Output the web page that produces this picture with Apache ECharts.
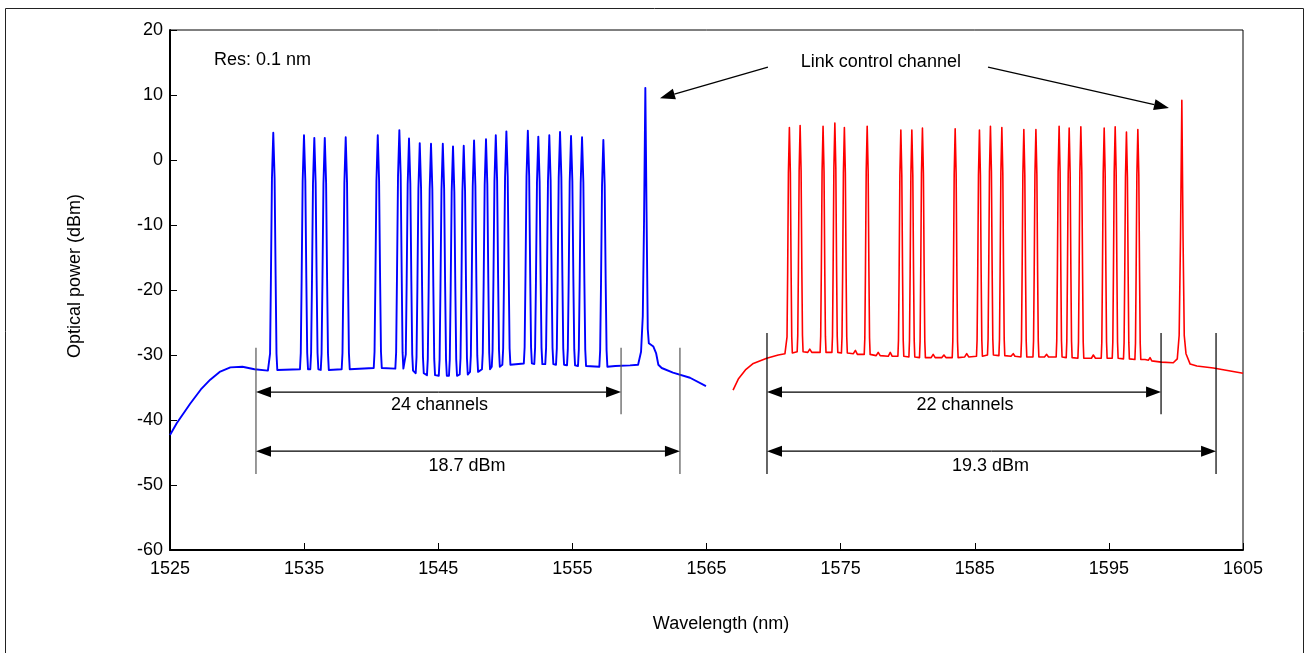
<!DOCTYPE html>
<html>
<head>
<meta charset="utf-8">
<title>Optical spectrum</title>
<script src="https://cdn.jsdelivr.net/npm/echarts@6.0.0/dist/echarts.min.js"></script>
<style>
  html, body { margin: 0; padding: 0; background: #fff; }
  #chart { width: 1307px; height: 653px; }
</style>
</head>
<body>
<div id="chart"></div>
<script>
// Axis ranges and tick steps
const xRangeNm = [1525, 1605];
const xStepNm = 10;
const yRangeDbm = [-60, 20];
const yStepDbm = 10;

// C-band spectrum: 24 channel peaks, the local noise floor at each channel
const cBandChannelNm = [1532.70, 1534.99, 1535.76, 1536.54, 1538.10, 1540.49, 1542.10, 1542.82,
  1543.62, 1544.46, 1545.34, 1546.10, 1546.90, 1547.67, 1548.56, 1549.29, 1550.08, 1551.68,
  1552.46, 1553.28, 1554.08, 1554.90, 1555.72, 1557.31];
const cBandChannelDbm = [4.2, 3.8, 3.4, 3.4, 3.5, 3.8, 4.6, 3.3, 2.6, 2.5, 2.5, 2.1,
  2.2, 3.0, 3.2, 3.8, 4.4, 4.5, 3.6, 3.8, 4.3, 3.7, 3.5, 3.1];
const cBandFloorDbm = [-32.3, -32.2, -32.2, -32.3, -32.2, -32.0, -32.1, -32.4, -32.8, -33.1, -33.2, -33.2,
  -33.0, -32.6, -32.2, -31.8, -31.5, -31.3, -31.4, -31.4, -31.5, -31.6, -31.7, -31.8];
// C-band ASE shoulder, link control channel and tail
const cBandTrace = [[1525, -42.3], [1525.5, -40.5], [1526.5, -37.5], [1527.3, -35.3], [1528, -33.8],
  [1528.7, -32.6], [1529.5, -31.9], [1530.4, -31.8], [1531.3, -32.2], [1532.3, -32.4],
  [1558.2, -31.7], [1559.3, -31.6], [1559.9, -31.5], [1560.12, -29.5], [1560.25, -24.0],
  [1560.34, -10.0], [1560.44, 11.1], [1560.53, -8.0], [1560.62, -26.0], [1560.7, -28.2],
  [1561.04, -28.7], [1561.24, -29.7], [1561.41, -31.5], [1561.66, -32.0], [1562.5, -32.7],
  [1563.77, -33.5], [1564.96, -34.8]];

// L-band spectrum: 22 channel peaks, the local noise floor at each channel
const lBandChannelNm = [1571.18, 1571.98, 1573.69, 1574.57, 1575.28, 1576.98, 1579.49, 1580.31,
  1581.10, 1583.54, 1585.35, 1586.17, 1587.02, 1588.66, 1589.56, 1591.29, 1592.04, 1592.91,
  1594.65, 1595.47, 1596.31, 1597.16];
const lBandChannelDbm = [5.0, 5.3, 5.2, 5.7, 5.0, 5.2, 4.6, 4.6, 4.9, 4.8, 4.6, 5.2,
  5.0, 4.7, 4.7, 5.2, 4.9, 5.1, 4.9, 5.1, 4.3, 4.7];
const lBandFloorDbm = [-29.7, -29.5, -29.6, -29.6, -29.7, -29.9, -30.2, -30.3, -30.4, -30.4, -30.2,
  -30.0, -30.1, -30.3, -30.3, -30.3, -30.4, -30.5, -30.5, -30.5, -30.6, -30.7];
// L-band rising edge, ripple between channels, link control channel and tail
const lBandTrace = [[1566.98, -35.4], [1567.37, -33.7], [1567.9, -32.3], [1568.49, -31.3],
  [1569.49, -30.5], [1570.35, -30.0], [1570.85, -29.8],
  [1572.55, -29.6], [1572.7, -29.1], [1572.85, -29.6],
  [1575.95, -29.8], [1576.1, -29.3], [1576.25, -29.9],
  [1577.65, -30.1], [1577.8, -29.6], [1577.95, -30.1],
  [1578.55, -30.2], [1578.7, -29.6], [1578.85, -30.2],
  [1581.75, -30.4], [1581.9, -29.9], [1582.05, -30.4],
  [1582.55, -30.4], [1582.7, -30.0], [1582.85, -30.4],
  [1584.25, -30.3], [1584.4, -29.8], [1584.55, -30.3],
  [1587.7, -30.2], [1587.87, -29.8], [1588.0, -30.2],
  [1590.2, -30.3], [1590.36, -29.9], [1590.5, -30.3],
  [1593.7, -30.5], [1593.84, -30.0], [1594.0, -30.5],
  [1597.7, -30.7], [1597.95, -30.8], [1598.07, -30.4], [1598.2, -30.9],
  [1598.9, -31.1], [1599.8, -31.2], [1600.1, -30.6], [1600.24, -27.0], [1600.34, -12.0],
  [1600.44, 9.2], [1600.53, -12.0], [1600.62, -27.0], [1600.75, -29.8], [1601.06, -31.4],
  [1601.56, -31.7], [1602.79, -32.0], [1605, -32.8]];

// Span markers (nm): start, last channel, end of power span; and their labels
const cBandSpanNm = [1531.41, 1558.63, 1563.02];
const lBandSpanNm = [1569.51, 1598.89, 1602.99];
const spanLabels = ['24 channels', '18.7 dBm', '22 channels', '19.3 dBm'];
const lccLabel = 'Link control channel';
const resLabel = 'Res: 0.1 nm';

const FONT = '"Liberation Sans", Arial, sans-serif';

// Merge channel outlines (a narrow spectral line at 0.1 nm resolution) into a trace
function buildTrace(extra, centers, peaks, floors, halfBase) {
  const pts = extra.slice();
  centers.forEach((c, i) => {
    const p = peaks[i], f = floors[i], h = halfBase;
    pts.push([c - h, f], [c - 0.8 * h, f + 2.5], [c - 0.58 * h, p - 22], [c - 0.33 * h, p - 7], [c, p],
      [c + 0.33 * h, p - 7], [c + 0.58 * h, p - 22], [c + 0.8 * h, f + 2.5], [c + h, f]);
  });
  return pts.sort((a, b) => a[0] - b[0]);
}

const chart = echarts.init(document.getElementById('chart'), null, { renderer: 'canvas' });

const labelStyle = { color: '#000', fontSize: 18, fontFamily: FONT };

chart.setOption({
  animation: false,
  backgroundColor: '#fff',
  grid: { left: 170, right: 64, top: 30, bottom: 103, show: true, borderColor: '#000', borderWidth: 1, backgroundColor: 'transparent' },
  xAxis: {
    type: 'value', min: xRangeNm[0], max: xRangeNm[1], interval: xStepNm,
    axisLine: { show: true, onZero: false, lineStyle: { color: '#000', width: 2 } },
    axisTick: { show: true, inside: true, length: 7, lineStyle: { color: '#000', width: 1 } },
    splitLine: { show: false },
    axisLabel: Object.assign({ margin: 10, showMinLabel: true, showMaxLabel: true, formatter: v => String(v) }, labelStyle)
  },
  yAxis: {
    type: 'value', min: yRangeDbm[0], max: yRangeDbm[1], interval: yStepDbm,
    axisLine: { show: true, onZero: false, lineStyle: { color: '#000', width: 2 } },
    axisTick: { show: true, inside: true, length: 7, lineStyle: { color: '#000', width: 1 } },
    splitLine: { show: false },
    axisLabel: Object.assign({ margin: 7, formatter: v => String(v) }, labelStyle)
  },
  series: [
    {
      name: 'C-band', type: 'line', showSymbol: false, symbol: 'none', smooth: false,
      data: buildTrace(cBandTrace, cBandChannelNm, cBandChannelDbm, cBandFloorDbm, 0.30),
      lineStyle: { color: '#0000ff', width: 1.9, join: 'round' }, z: 3
    },
    {
      name: 'L-band', type: 'line', showSymbol: false, symbol: 'none', smooth: false,
      data: buildTrace(lBandTrace, lBandChannelNm, lBandChannelDbm, lBandFloorDbm, 0.22),
      lineStyle: { color: '#ff0000', width: 1.6, join: 'round' }, z: 3
    }
  ]
});

// Annotations placed in data coordinates
function px(x, y) { return chart.convertToPixel({ gridIndex: 0 }, [x, y]); }

function arrowHead(tail, tip, len, half) {
  const dx = tip[0] - tail[0], dy = tip[1] - tail[1];
  const d = Math.hypot(dx, dy), ux = dx / d, uy = dy / d;
  const bx = tip[0] - ux * len, by = tip[1] - uy * len;
  return {
    base: [bx, by],
    poly: [[tip[0], tip[1]], [bx - uy * half, by + ux * half], [bx + uy * half, by - ux * half]]
  };
}

const g = [];
function line(a, b, color, w) {
  g.push({ type: 'line', shape: { x1: a[0], y1: a[1], x2: b[0], y2: b[1] }, style: { stroke: color, lineWidth: w }, z: 10 });
}
function arrow(tail, tip) {
  const h = arrowHead(tail, tip, 15, 5.5);
  line(tail, h.base, '#000', 1.2);
  g.push({ type: 'polygon', shape: { points: h.poly }, style: { fill: '#000' }, z: 10 });
}
function doubleArrow(a, b) {
  const mid = [(a[0] + b[0]) / 2, (a[1] + b[1]) / 2];
  arrow(mid, a);
  arrow(mid, b);
}
function text(str, p, align) {
  g.push({ type: 'text', x: p[0], y: p[1], style: { text: str, fill: '#000', font: '18px ' + FONT, align: align || 'center', verticalAlign: 'middle' }, z: 10 });
}

// Dimension levels (dBm)
const rowChannels = -35.7, rowPower = -44.8;
const textChannels = -37.7, textPower = -47.1;

function span(xs, topDbm, color, labels) {
  line(px(xs[0], topDbm), px(xs[0], -48.3), color, 1.2);
  line(px(xs[1], topDbm), px(xs[1], -39.1), color, 1.2);
  line(px(xs[2], topDbm), px(xs[2], -48.3), color, 1.2);
  doubleArrow(px(xs[0], rowChannels), px(xs[1], rowChannels));
  doubleArrow(px(xs[0], rowPower), px(xs[2], rowPower));
  text(labels[0], [(px(xs[0], 0)[0] + px(xs[1], 0)[0]) / 2 + 1, px(0, textChannels)[1]]);
  text(labels[1], [(px(xs[0], 0)[0] + px(xs[2], 0)[0]) / 2 - 1, px(0, textPower)[1]]);
}
span(cBandSpanNm, -28.9, '#555', spanLabels.slice(0, 2));
span(lBandSpanNm, -26.6, '#000', spanLabels.slice(2, 4));

// Link control channel callout
text(lccLabel, px(1578.0, 15.1));
arrow(px(1569.58, 14.3), px(1561.53, 9.5));
arrow(px(1585.99, 14.3), px(1599.48, 8.0));

// Resolution note
text(resLabel, [px(1528.28, 0)[0], px(0, 15.4)[1]], 'left');

// Axis titles
g.push({ type: 'text', x: 75, y: 276, rotation: Math.PI / 2,
  style: { text: 'Optical power (dBm)', fill: '#000', font: '18px ' + FONT, align: 'center', verticalAlign: 'middle' } });
g.push({ type: 'text', x: 721, y: 624,
  style: { text: 'Wavelength (nm)', fill: '#000', font: '18px ' + FONT, align: 'center', verticalAlign: 'middle' } });

// Outer frame
g.push({ type: 'rect', shape: { x: 5.5, y: 8.5, width: 1298, height: 660 }, style: { fill: 'none', stroke: '#222', lineWidth: 1 }, z: 0 });

chart.setOption({ graphic: g });
</script>
</body>
</html>
